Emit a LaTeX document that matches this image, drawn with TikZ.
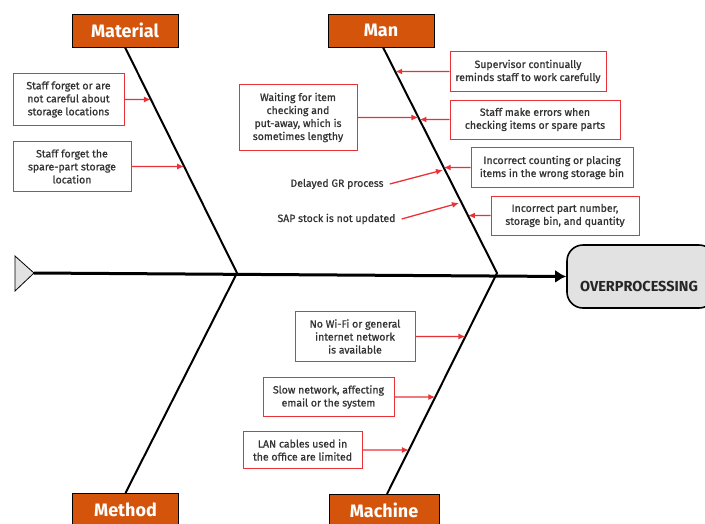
\documentclass[tikz,border=0pt]{standalone}
\usepackage{fontspec}
\setmainfont{Fira Sans}
\newfontfamily\causefamily{Fira Sans}[RawFeature={embolden=0.9}]
\usetikzlibrary{arrows.meta, calc, positioning}
\definecolor{boneorange}{RGB}{211,84,10}
\definecolor{causered}{RGB}{232,50,56}
\definecolor{effectgray}{RGB}{226,226,226}
\tikzset{
	category/.style={
		rectangle,
		draw=black, semithick,
		fill=boneorange,
		text=white,
		font=\bfseries\fontsize{18}{20}\selectfont,
		minimum width=106pt, minimum height=33pt,
		inner sep=0pt
	},
	cause/.style={
		rectangle,
		draw=causered, semithick,
		fill=white,
		text=black!80,
		align=center,
		font=\causefamily\fontsize{10.5}{13}\selectfont,
		inner xsep=0pt, inner ysep=8pt
	},
	note/.style={text=black!80, font=\causefamily\fontsize{10.5}{13}\selectfont, inner sep=1pt},
	bone/.style={line width=2pt, black},
	spine/.style={line width=3pt, black, -{Latex[length=11pt,width=13pt]}},
	causearrow/.style={causered, line width=1.3pt, -{Latex[length=7pt,width=6pt]}},
	effect/.style={
		rectangle, rounded corners=16pt,
		draw=black, line width=1.6pt,
		fill=effectgray,
		minimum width=148pt, minimum height=63pt
	}
}

\begin{document}
\begin{tikzpicture}[x=1pt,y=-1pt]
	\clip (0,0) rectangle (705,523);

	% categories
	\node[category] (material) at (125,30.5) {Material};
	\node[category] (man) at (381,30.5) {Man};
	\node[category, anchor=north] (method) at (125.5,493) {Method};
	\node[category, anchor=north, minimum width=110pt] (machine) at (384,494) {Machine};

	% spine and bones
	\coordinate (tail) at (34,273);
	\coordinate (jMat) at (237,273);
	\coordinate (jMan) at (497,273);
	\coordinate (manTop) at ([xshift=2pt]man.south);
	\coordinate (machBot) at ([xshift=3pt]machine.north);

	\node[effect] (effect) at (641,276.5) {};
	\node[font=\bfseries\fontsize{14.5}{16}\selectfont, text=black!85] (effecttext) at (639,286) {OVERPROCESSING};

	\draw[thick, fill=effectgray] (15,256) -- (tail) -- (15,291) -- cycle;
	\draw[spine] (tail) -- (effect.west);
	\draw[bone] (material.south) -- (jMat) -- (method.north);
	\draw[bone] (manTop) -- (jMan) -- (machBot);

	% material causes
	\node[cause, minimum width=111pt] (forgetCare) at (68.5,99.5) {Staff forget or are\\not careful about\\storage locations};
	\node[cause, minimum width=118pt] (forgetLoc) at (72,166.5) {Staff forget the\\spare-part storage\\location};
	\draw[causearrow] (forgetCare.east) -- (intersection of forgetCare.west--forgetCare.east and material.south--jMat);
	\draw[causearrow] (forgetLoc.east) -- (intersection of forgetLoc.west--forgetLoc.east and material.south--jMat);

	% man causes
	\node[cause, minimum width=118pt] (waiting) at (298,117.5) {Waiting for item\\checking and\\put-away, which is\\sometimes lengthy};
	\node[cause, minimum width=156pt] (remind) at (528,71.5) {Supervisor continually\\reminds staff to work carefully};
	\node[cause, minimum width=170pt] (errors) at (535,119.5) {Staff make errors when\\checking items or spare parts};
	\node[cause, minimum width=162pt] (counting) at (552,167.5) {Incorrect counting or placing\\items in the wrong storage bin};
	\node[cause, minimum width=148pt] (partno) at (565,215.5) {Incorrect part number,\\storage bin, and quantity};
	\node[note] (delayGR) at (337,184) {Delayed GR process};
	\node[note] (sapStock) at (336.5,219) {SAP stock is not updated};
	\coordinate (grHit) at (443,170);
	\coordinate (sapHit) at (459,203);

	\draw[causearrow] (waiting.east) -- (intersection of waiting.west--waiting.east and manTop--jMan);
	\draw[causearrow] (remind.west) -- (intersection of remind.west--remind.east and manTop--jMan);
	\draw[causearrow] (errors.west) -- (intersection of errors.west--errors.east and manTop--jMan);
	\draw[causearrow] (counting.west) -- (intersection of counting.west--counting.east and manTop--jMan);
	\draw[causearrow] (partno.west) -- (intersection of partno.west--partno.east and manTop--jMan);
	\draw[causearrow] ([xshift=5pt]delayGR.east) -- (grHit);
	\draw[causearrow] ([xshift=5pt]sapStock.east) -- (sapHit);

	% machine causes
	\node[cause, minimum width=120pt] (noWifi) at (355,336.5) {No Wi-Fi or general\\internet network\\is available};
	\node[cause, minimum width=131pt] (slowNet) at (328.5,397) {Slow network, affecting\\email or the system};
	\node[cause, minimum width=119pt] (lanCable) at (302.5,450) {LAN cables used in\\the office are limited};
	\draw[causearrow] (noWifi.east) -- (intersection of noWifi.west--noWifi.east and jMan--machBot);
	\draw[causearrow] (slowNet.east) -- (intersection of slowNet.west--slowNet.east and jMan--machBot);
	\draw[causearrow] (lanCable.east) -- (intersection of lanCable.west--lanCable.east and jMan--machBot);
\end{tikzpicture}
\end{document}
